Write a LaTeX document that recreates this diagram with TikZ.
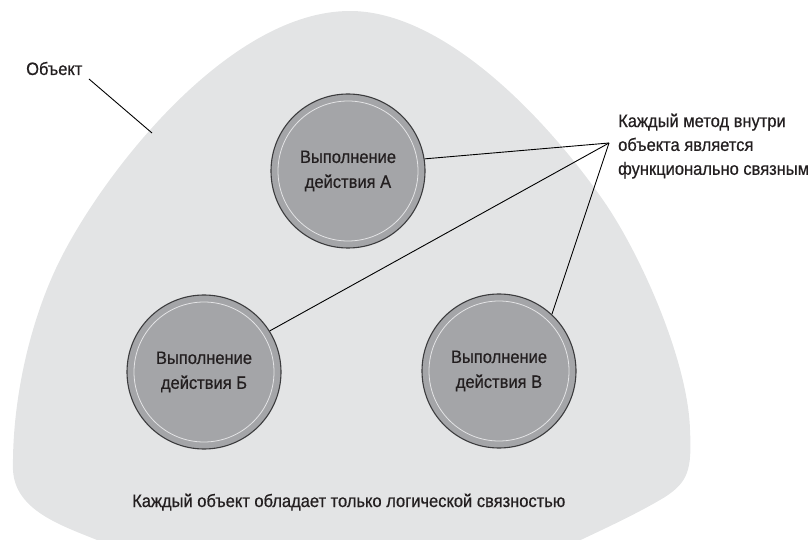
\documentclass[tikz,border=0pt]{standalone}
\usepackage{fontspec}
\setmainfont{Liberation Sans}[FakeStretch=0.92,FakeBold=0.6]
\definecolor{blobgray}{HTML}{E3E4E5}
\definecolor{circgray}{HTML}{A4A5A8}
\definecolor{circedge}{HTML}{3C3C3E}
\definecolor{ringcol}{HTML}{E4E4E6}
\definecolor{txt}{HTML}{231F20}
\tikzset{
  action/.style={circle, fill=circgray, draw=circedge, line width=1.1bp,
    minimum size=154bp, inner sep=0pt, align=center, text=txt,
    font=\fontsize{18}{25}\selectfont},
  ring/.style={draw=ringcol, line width=0.8bp},
  label/.style={text=txt, font=\fontsize{18}{24}\selectfont, inner sep=0pt},
  leader/.style={draw=black, line width=0.9bp}
}
\begin{document}
\begin{tikzpicture}[x=1bp,y=-1bp]
\useasboundingbox (0,0) rectangle (810,540);
\begin{scope}
\clip (0,0) rectangle (810,540);
\fill[blobgray] (350,11) .. controls (440,11) and (540,110) .. (603,200)
  .. controls (640,253) and (688,360) .. (690,430)
  .. controls (692,470) and (688,482) .. (665,497)
  .. controls (630,518) and (590,535) .. (560,550)
  .. controls (450,600) and (200,580) .. (97,540)
  .. controls (60,525) and (15,510) .. (13,470)
  .. controls (12,400) and (30,320) .. (60,260)
  .. controls (105,170) and (230,11) .. (350,11) -- cycle;
\end{scope}
\node[action] (a) at (348,171) {Выполнение\\действия А};
\node[action] (b) at (204,372) {Выполнение\\действия Б};
\node[action] (v) at (499,371) {Выполнение\\действия В};
\foreach \n in {a,b,v} \draw[ring] (\n.center) circle[radius=70bp];
\node[label, anchor=base west] (obj) at (26,75) {Объект};
\coordinate (objA) at (89,79);
\coordinate (objB) at (152,133);
\draw[leader] (objA) -- (objB);
\node[label, anchor=north west, align=left] (meth) at (618,113.5) {Каждый метод внутри\\объекта является\\функционально связным};
\coordinate (apex) at (609,143);
\draw[leader] (apex) -- (a.9);
\draw[leader] (apex) -- (b.32);
\draw[leader] (apex) -- (v.47);
\node[label, anchor=base west] (bottom) at (132,507) {Каждый объект обладает только логической связностью};
\end{tikzpicture}
\end{document}
